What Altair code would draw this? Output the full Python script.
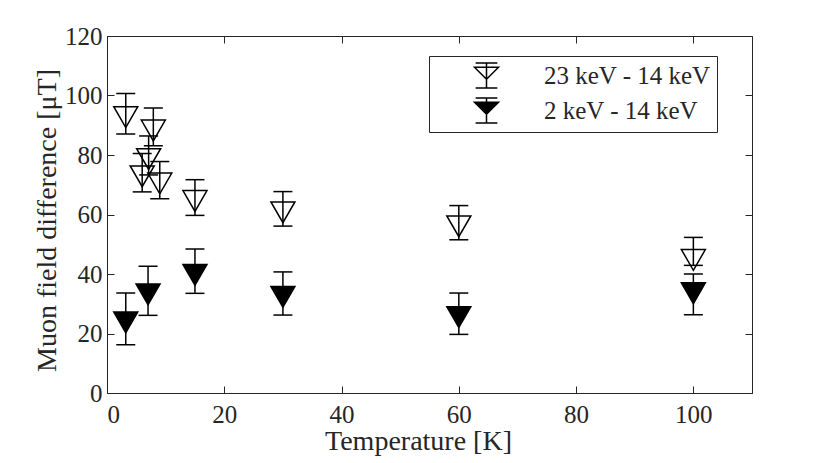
import altair as alt
import pandas as pd

# 23 keV - 14 keV (open triangles)
open_T = [3.2, 6.0, 7.1, 7.9, 9.0, 15.0, 30.0, 60.0, 100.0]
open_v = [93.9, 74.0, 79.8, 89.4, 71.6, 65.7, 61.9, 57.2, 45.9]
open_lo = [87.1, 67.6, 73.3, 83.1, 65.3, 59.7, 56.1, 51.5, 42.9]
open_hi = [100.7, 80.5, 86.4, 95.8, 77.8, 71.7, 67.7, 63.0, 52.3]

# 2 keV - 14 keV (filled triangles)
fill_T = [3.2, 7.0, 15.0, 30.0, 60.0, 100.0]
fill_v = [24.9, 34.3, 40.9, 33.5, 26.7, 34.7]
fill_lo = [16.2, 26.1, 33.5, 26.2, 19.7, 26.3]
fill_hi = [33.6, 42.6, 48.4, 40.7, 33.6, 40.0]

series_names = ["23 keV - 14 keV", "2 keV - 14 keV"]

x_ticks = [0, 20, 40, 60, 80, 100]
y_ticks = [0, 20, 40, 60, 80, 100, 120]

rows = []
for T, v, lo, hi in zip(open_T, open_v, open_lo, open_hi):
    rows.append(dict(T=T, v=v, lo=lo, hi=hi, s=series_names[0]))
for T, v, lo, hi in zip(fill_T, fill_v, fill_lo, fill_hi):
    rows.append(dict(T=T, v=v, lo=lo, hi=hi, s=series_names[1]))
df = pd.DataFrame(rows)

W, H = 645, 357
TICK = 7
FONT = "Liberation Serif"
AX = "#262626"

tri = "M-1,-0.577L1,-0.577L0,1.155Z"
legend_glyph = ("M-0.96,-0.66L0.96,-0.66L0,0.3Z M0,-1L0,1 "
                "M-0.87,-1L0.87,-1 M-0.87,1L0.87,1")

xenc = alt.X("T:Q", scale=alt.Scale(domain=[0, 110], nice=False),
             axis=alt.Axis(values=x_ticks, title="Temperature [K]",
                           grid=True, gridDash=[TICK, H - 2 * TICK, TICK, 0],
                           gridColor=AX, gridOpacity=1, gridWidth=1,
                           ticks=False, tickSize=0, labelPadding=9,
                           titleFontSize=28,
                           titleBaseline="alphabetic", titleX=311, titleY=56))
yenc = alt.Y("v:Q", scale=alt.Scale(domain=[0, 120], nice=False),
             axis=alt.Axis(values=y_ticks, title="Muon field difference [μT]",
                           grid=True, gridDash=[TICK, W - 2 * TICK, TICK, 0],
                           gridColor=AX, gridOpacity=1, gridWidth=1,
                           ticks=False, tickSize=0, labelPadding=5,
                           titleFontSize=28,
                           titleBaseline="alphabetic", titleX=-52, titleY=184))

base = alt.Chart(df)

points = base.mark_point(shape=tri, size=576, filled=True, stroke="black",
                         strokeWidth=1.5, opacity=1).encode(
    x=xenc, y=yenc,
    fill=alt.Fill("s:N",
                  scale=alt.Scale(domain=series_names, range=["transparent", "black"]),
                  legend=alt.Legend(title=None, orient="none", legendX=322, legendY=20,
                                    symbolType=legend_glyph, symbolSize=625,
                                    symbolStrokeColor="black", symbolStrokeWidth=1.5,
                                    symbolOffset=38, labelOffset=44, labelLimit=0,
                                    labelFontSize=25, labelFont=FONT, labelColor=AX,
                                    padding=6, rowPadding=4,
                                    strokeColor=AX, fillColor="white", cornerRadius=0)),
)

bars = base.mark_rule(color="black", strokeWidth=1.5).encode(
    x="T:Q", y="lo:Q", y2="hi:Q")
cap_lo = base.mark_tick(orient="horizontal", size=19, thickness=1.5,
                        color="black", opacity=1).encode(x="T:Q", y="lo:Q")
cap_hi = base.mark_tick(orient="horizontal", size=19, thickness=1.5,
                        color="black", opacity=1).encode(x="T:Q", y="hi:Q")

chart = alt.layer(points, bars, cap_lo, cap_hi).properties(
    width=W, height=H,
    autosize=alt.AutoSizeParams(type="none"),
    padding={"left": 99, "top": 28, "right": 66, "bottom": 68},
).configure(font=FONT).configure_axis(
    labelFont=FONT, titleFont=FONT, labelFontSize=25, titleFontSize=28,
    labelColor=AX, titleColor=AX, titleFontWeight="normal",
    domainColor=AX, domainWidth=1,
).configure_view(stroke=AX, strokeWidth=1)

chart.save("out.html", embed_options={"renderer": "svg", "actions": False})
